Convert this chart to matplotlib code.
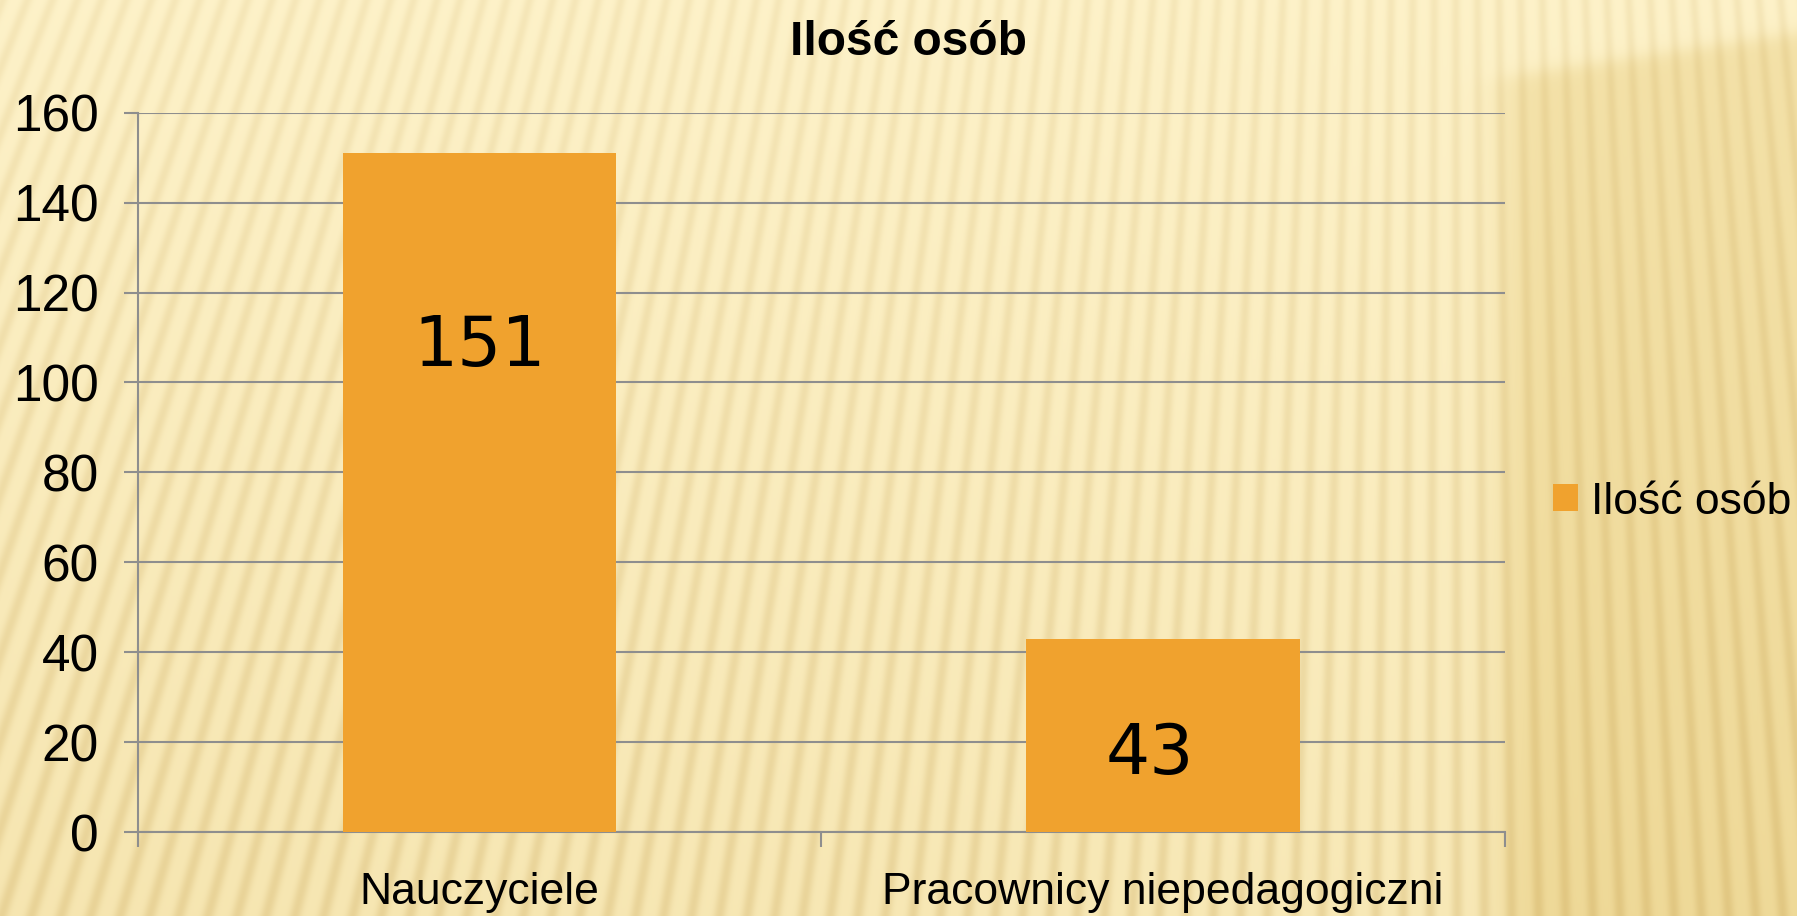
import numpy as np
import matplotlib
matplotlib.use("Agg")
import matplotlib.pyplot as plt

# ---- data ----
categories = ["Nauczyciele", "Pracownicy niepedagogiczni"]
values = [151, 43]
series_name = "Ilość osób"
title = "Ilość osób"
yticks = [0, 20, 40, 60, 80, 100, 120, 140, 160]
label_y = [108, 17.2]     # vertical placement of value labels (data units)
label_dx = [0.0, -0.02]   # horizontal nudge of value labels (category units)

W, H = 1797, 916
DPI = 100
fig = plt.figure(figsize=(W / DPI, H / DPI), dpi=DPI)

# ---- decorative striped background ----
yy, xx = np.mgrid[0:H, 0:W].astype(float)
x0, y0 = 1450.0, -3600.0
theta = np.arctan2(xx - x0, yy - y0)
N = 2 * np.pi / (24.0 / 4000.0)
s = (0.5 + 0.5 * np.sin(theta * N)) ** 2

def sig(z):
    return 1.0 / (1.0 + np.exp(-z))

yb = 77 - 0.15 * (xx - 1500)
dark = sig((xx - 1502) / 12.0) * sig((yy - yb) / 5.0)
w = np.clip(0.05 + 0.30 * (yy / H) + 0.15 * (1 - xx / W) * (yy / H) + 0.60 * dark, 0, 1)
light = np.array([254, 243, 203]) / 255.0
deep = np.array([238, 216, 150]) / 255.0
base = light[None, None, :] * (1 - w[..., None]) + deep[None, None, :] * w[..., None]
amp = 0.05 + 0.04 * (yy / H)[..., None]
tint = np.array([0.6, 0.9, 1.6])[None, None, :]
img = base * (1 - amp * tint * s[..., None])
img = np.clip(img, 0, 1)

bg = fig.add_axes([0, 0, 1, 1], zorder=-10)
bg.imshow(img, extent=(0, W, H, 0), aspect="auto", interpolation="bilinear")
bg.set_axis_off()

# ---- main chart ----
left, right, top, bottom = 137.5, 1505, 112.7, 832
ax = fig.add_axes([left / W, 1 - bottom / H, (right - left) / W, (bottom - top) / H])
ax.set_facecolor("none")

x = np.arange(len(categories))
bar_color = "#F0A22E"
ax.bar(x, values, width=0.4, color=bar_color, label=series_name, zorder=3)

ax.set_xlim(-0.5, len(categories) - 0.5)
ax.set_ylim(0, 160)
ax.set_yticks(yticks)
ax.set_yticklabels([str(t) for t in yticks], fontsize=37, family="Liberation Sans")
grid_c = "#8E8E8E"
ax.yaxis.grid(True, color=grid_c, linewidth=1.5, zorder=1)
ax.set_axisbelow(True)

ax.set_xticks(x)
ax.set_xticklabels(categories, fontsize=32, family="Liberation Sans")
ax.tick_params(axis="x", which="major", length=0, pad=29)
ax.set_xticks(np.arange(len(categories) + 1) - 0.5, minor=True)
ax.tick_params(axis="x", which="minor", length=11, width=1.5, color=grid_c, direction="out")
ax.tick_params(axis="y", length=10, width=1.5, color=grid_c, pad=18)

for sp in ["top", "right"]:
    ax.spines[sp].set_visible(False)
for sp in ["left", "bottom"]:
    ax.spines[sp].set_color(grid_c)
    ax.spines[sp].set_linewidth(1.5)

for xi, v, ly, dx in zip(x, values, label_y, label_dx):
    ax.text(xi + dx, ly, str(v), ha="center", va="center", fontsize=50,
            family="DejaVu Sans", color="black", zorder=4)

fig.text(908 / W, 1 - 55 / H, title, ha="center", va="baseline",
         fontsize=34.5, family="Liberation Sans", fontweight="bold", color="black")

ax.legend(loc="center left", bbox_to_anchor=(1553 / W, 1 - 502 / H),
          bbox_transform=fig.transFigure, frameon=False,
          prop={"family": "Liberation Sans", "size": 32},
          handlelength=0.56, handleheight=0.56, handletextpad=0.3,
          borderpad=0, borderaxespad=0)

fig.savefig("out.png", dpi=DPI)
